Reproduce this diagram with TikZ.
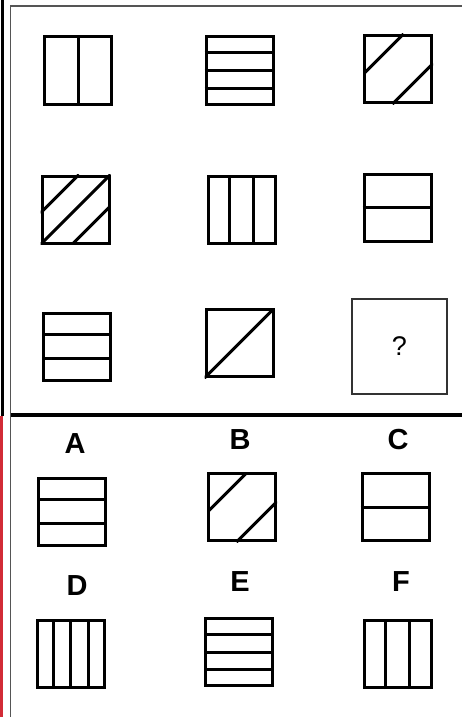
\documentclass[tikz,border=0pt]{standalone}
\usepackage{fontspec}
\setmainfont{Liberation Sans}
\usepackage{tikz}
\usetikzlibrary{calc,positioning}
\definecolor{framegray}{HTML}{555555}
\definecolor{edgered}{HTML}{D22B36}

\begin{document}
\begin{tikzpicture}[
    x=1pt, y=-1pt,
    tile/.style={draw, line width=3pt, minimum size=67pt, inner sep=0pt},
    stroke/.style={line width=3pt},
    qbox/.style={draw=black!80, line width=2pt, minimum size=95pt, inner sep=0pt,
        font=\fontsize{27}{27}\selectfont},
    letter/.style={font=\fontsize{29}{29}\selectfont\bfseries, inner sep=0pt}
]
\useasboundingbox (0,0) rectangle (462,717);

% frame
\draw[line width=3pt] (2,0) -- (2,416);
\draw[edgered, line width=3pt] (1.5,416) -- (1.5,717);
\draw[framegray, line width=1.5pt] (462,6) -- (10.5,6) -- (10.5,717);
\draw[line width=3.5pt] (10.5,415) -- (462,415);

% row 1
\node[tile] (r1c1) at (78,70.5) {};
\node[tile] (r1c2) at (239.5,70.5) {};
\node[tile] (r1c3) at (398,69) {};
\draw[stroke] (r1c1.south) -- (r1c1.north);
\foreach \t in {0.25,0.5,0.75}
    \draw[stroke] ($(r1c2.south west)!\t!(r1c2.north west)$) -- ($(r1c2.south east)!\t!(r1c2.north east)$);
\begin{scope}
    \clip (r1c3.south west) rectangle (r1c3.north east);
    \draw[stroke] ($(r1c3.south west)!0.42!(r1c3.north west)$) -- ($(r1c3.north west)!0.58!(r1c3.north east)$);
    \draw[stroke] ($(r1c3.south west)!0.42!(r1c3.south east)$) -- ($(r1c3.south east)!0.58!(r1c3.north east)$);
\end{scope}

% row 2
\node[tile] (r2c1) at (75.5,209.5) {};
\node[tile] (r2c2) at (241.5,209.5) {};
\node[tile] (r2c3) at (397.5,207.5) {};
\begin{scope}
    \clip (r2c1.south west) rectangle (r2c1.north east);
    \draw[stroke] ($(r2c1.south west)!0.45!(r2c1.north west)$) -- ($(r2c1.north west)!0.55!(r2c1.north east)$);
    \draw[stroke] (r2c1.south west) -- (r2c1.north east);
    \draw[stroke] ($(r2c1.south west)!0.45!(r2c1.south east)$) -- ($(r2c1.south east)!0.55!(r2c1.north east)$);
\end{scope}
\foreach \t in {0.333,0.667}
    \draw[stroke] ($(r2c2.south west)!\t!(r2c2.south east)$) -- ($(r2c2.north west)!\t!(r2c2.north east)$);
\draw[stroke] (r2c3.west) -- (r2c3.east);

% row 3
\node[tile] (r3c1) at (77,346.5) {};
\node[tile] (r3c2) at (239.5,343) {};
\node[qbox] (r3c3) at (399.5,346) {?};
\foreach \t in {0.333,0.667}
    \draw[stroke] ($(r3c1.south west)!\t!(r3c1.north west)$) -- ($(r3c1.south east)!\t!(r3c1.north east)$);
\begin{scope}
    \clip (r3c2.south west) rectangle (r3c2.north east);
    \draw[stroke] (r3c2.south west) -- (r3c2.north east);
\end{scope}

% answers A--C
\node[letter] (labA) at (75,444) {A};
\node[letter] (labB) at (240,440) {B};
\node[letter] (labC) at (398,440) {C};
\node[tile] (optA) at (72,511.5) {};
\node[tile] (optB) at (242,507) {};
\node[tile] (optC) at (395.5,507) {};
\foreach \t in {0.333,0.667}
    \draw[stroke] ($(optA.south west)!\t!(optA.north west)$) -- ($(optA.south east)!\t!(optA.north east)$);
\begin{scope}
    \clip (optB.south west) rectangle (optB.north east);
    \draw[stroke] ($(optB.south west)!0.42!(optB.north west)$) -- ($(optB.north west)!0.58!(optB.north east)$);
    \draw[stroke] ($(optB.south west)!0.42!(optB.south east)$) -- ($(optB.south east)!0.58!(optB.north east)$);
\end{scope}
\draw[stroke] (optC.west) -- (optC.east);

% answers D--F
\node[letter] (labD) at (77,586) {D};
\node[letter] (labE) at (240,582) {E};
\node[letter] (labF) at (401,582) {F};
\node[tile] (optD) at (70.5,653.5) {};
\node[tile] (optE) at (239,652) {};
\node[tile] (optF) at (397.5,654) {};
\foreach \t in {0.25,0.5,0.75}
    \draw[stroke] ($(optD.south west)!\t!(optD.south east)$) -- ($(optD.north west)!\t!(optD.north east)$);
\foreach \t in {0.25,0.5,0.75}
    \draw[stroke] ($(optE.south west)!\t!(optE.north west)$) -- ($(optE.south east)!\t!(optE.north east)$);
\foreach \t in {0.333,0.667}
    \draw[stroke] ($(optF.south west)!\t!(optF.south east)$) -- ($(optF.north west)!\t!(optF.north east)$);

\end{tikzpicture}
\end{document}
